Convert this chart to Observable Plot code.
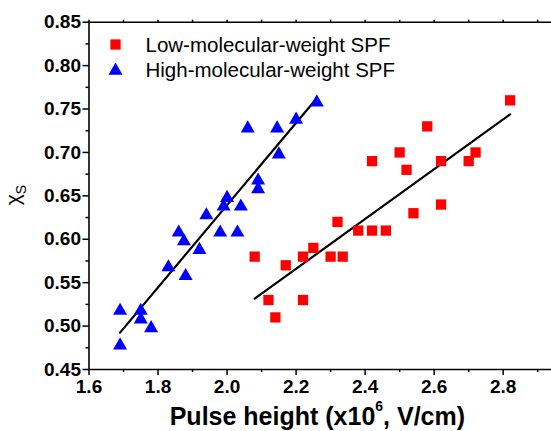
<!DOCTYPE html>
<html>
<head>
<meta charset="utf-8">
<script src="https://cdn.jsdelivr.net/npm/d3@7"></script>
<script src="https://cdn.jsdelivr.net/npm/@observablehq/plot@0.6"></script>
<style>
  html, body { margin: 0; padding: 0; background: #fff; overflow: hidden; }
  #chart svg { display: block; }
</style>
</head>
<body>
<div id="chart"></div>
<script>
// Series names
const seriesNames = ["Low-molecular-weight SPF", "High-molecular-weight SPF"];

// Low-molecular-weight SPF (red squares)
const lowX = [2.82, 2.58, 2.50, 2.42, 2.52, 2.62, 2.70, 2.72, 2.62, 2.54, 2.32, 2.38, 2.42, 2.46, 2.08, 2.22, 2.25, 2.30, 2.335, 2.17, 2.12, 2.22, 2.14];
const lowY = [0.76, 0.73, 0.70, 0.69, 0.68, 0.69, 0.69, 0.70, 0.64, 0.63, 0.62, 0.61, 0.61, 0.61, 0.58, 0.58, 0.59, 0.58, 0.58, 0.57, 0.53, 0.53, 0.51];

// High-molecular-weight SPF (blue triangles)
const highX = [2.26, 2.20, 2.06, 2.145, 2.15, 2.09, 2.09, 2.00, 1.99, 2.04, 1.94, 1.86, 1.98, 2.03, 1.875, 1.92, 1.83, 1.88, 1.69, 1.75, 1.75, 1.78, 1.69];
const highY = [0.76, 0.74, 0.73, 0.73, 0.70, 0.67, 0.66, 0.65, 0.64, 0.64, 0.63, 0.61, 0.61, 0.61, 0.60, 0.59, 0.57, 0.56, 0.52, 0.52, 0.51, 0.50, 0.48];

// Tick values
const xMajorTicks = [1.6, 1.8, 2.0, 2.2, 2.4, 2.6, 2.8];
const xMinorTicks = [1.7, 1.9, 2.1, 2.3, 2.5, 2.7, 2.9];
const xTopTicks = [1.6, 1.7, 1.8, 1.9, 2.0, 2.1, 2.2, 2.3, 2.4, 2.5, 2.6, 2.7, 2.8, 2.9];
const yMajorTicks = [0.45, 0.50, 0.55, 0.60, 0.65, 0.70, 0.75, 0.80, 0.85];
const yMinorTicks = [0.475, 0.525, 0.575, 0.625, 0.675, 0.725, 0.775, 0.825];

const low = lowX.map((x, i) => ({x, y: lowY[i]}));
const high = highX.map((x, i) => ({x, y: highY[i]}));

const FONT = "'Liberation Sans', Arial, Helvetica, sans-serif";
const W = 551, H = 431;

const plot = Plot.plot({
  width: W,
  height: H,
  marginLeft: 88.5,
  marginRight: 0,
  marginTop: 21.7,
  marginBottom: 62,
  style: {fontFamily: FONT, color: "black", background: "white", overflow: "visible"},
  x: {domain: [1.6, 2.94]},
  y: {domain: [0.45, 0.85]},
  marks: [
    // frame lines
    Plot.ruleY([0.45, 0.85], {stroke: "black", strokeWidth: 1.6}),
    Plot.ruleX([1.6], {stroke: "black", strokeWidth: 1.6}),
    // axes
    Plot.axisX(xMajorTicks, {anchor: "bottom", tickSize: 6, tickPadding: 4, tickFormat: d3.format(".1f"),
      fontSize: 19, fontWeight: "bold", strokeWidth: 1.5, label: null}),
    Plot.axisX(xMinorTicks, {anchor: "bottom", tickSize: 3, tickFormat: () => "", strokeWidth: 1.5, label: null}),
    Plot.axisX(xTopTicks, {anchor: "top", tickSize: 3, tickFormat: () => "", strokeWidth: 1.5, label: null}),
    Plot.axisY(yMajorTicks, {anchor: "left", tickSize: 6, tickPadding: 2, tickFormat: d3.format(".2f"),
      fontSize: 19, fontWeight: "bold", strokeWidth: 1.5, label: null}),
    Plot.axisY(yMinorTicks, {anchor: "left", tickSize: 3, tickFormat: () => "", strokeWidth: 1.5, label: null}),
    // fit lines
    Plot.linearRegressionY(low, {x: "x", y: "y", stroke: "black", strokeWidth: 2.2, ci: 0}),
    Plot.linearRegressionY(high, {x: "x", y: "y", stroke: "black", strokeWidth: 2.2, ci: 0}),
    // points
    Plot.dot(low, {x: "x", y: "y", symbol: "square", r: 5.8, fill: "#ff0000", stroke: "none"}),
    Plot.dot(high, {x: "x", y: "y", symbol: "triangle", r: 5.2, fill: "#0000ff", stroke: "none", dy: 2}),
    // legend
    Plot.dot([seriesNames[0]], {frameAnchor: "top-left", dx: 26.5, dy: 22.3, symbol: "square", r: 5.8, fill: "#ff0000", stroke: "none"}),
    Plot.dot([seriesNames[1]], {frameAnchor: "top-left", dx: 26.5, dy: 48.5, symbol: "triangle", r: 5.2, fill: "#0000ff", stroke: "none"}),
    Plot.text([seriesNames[0]], {text: d => d, frameAnchor: "top-left", dx: 56.5, dy: 23.2, textAnchor: "start",
      lineAnchor: "middle", fontSize: 20.5, fill: "black"}),
    Plot.text([seriesNames[1]], {text: d => d, frameAnchor: "top-left", dx: 56.5, dy: 48.2, textAnchor: "start",
      lineAnchor: "middle", fontSize: 20.5, fill: "black"})
  ]
});

document.getElementById("chart").appendChild(plot);

// Axis titles with sub/superscripts
const svg = d3.select(plot);
const xt = svg.append("text")
  .attr("x", 317.4).attr("y", 425)
  .attr("text-anchor", "middle")
  .attr("font-family", FONT)
  .attr("font-weight", "bold")
  .attr("font-size", 25)
  .attr("fill", "black");
xt.append("tspan").text("Pulse height (x10");
xt.append("tspan").attr("font-size", 14).attr("dy", -14).text("6");
xt.append("tspan").attr("dy", 14).text(", V/cm)");

const yt = svg.append("text")
  .attr("transform", "translate(20,195) rotate(-90)")
  .attr("text-anchor", "middle")
  .attr("font-family", FONT)
  .attr("font-size", 21)
  .attr("fill", "black");
yt.append("tspan").text("χ");
yt.append("tspan").attr("font-size", 14).attr("dy", 6).text("S");
</script>
</body>
</html>
